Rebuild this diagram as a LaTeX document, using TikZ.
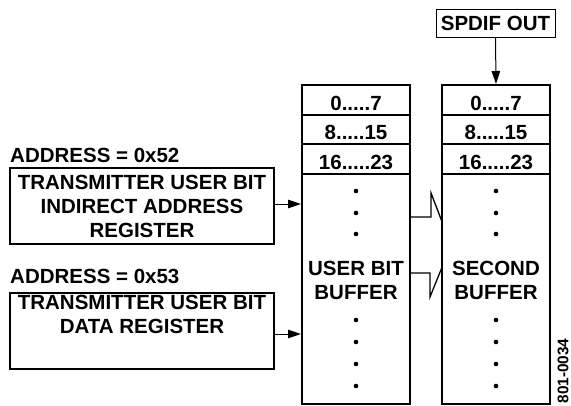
\documentclass[tikz,border=0pt]{standalone}
\usepackage{fontspec}
\setmainfont{Liberation Sans}
\usetikzlibrary{arrows.meta,backgrounds}

\begin{document}
\begin{tikzpicture}[x=1pt,y=-1pt,
    txt/.style={font=\fontsize{20.5}{24}\selectfont\bfseries,inner sep=0pt,align=center},
    cell/.style={txt,draw,line width=2pt,fill=white,minimum width=108pt,minimum height=29.5pt,anchor=north,text height=21pt,text depth=0pt},
    body/.style={draw,line width=2pt,fill=white,minimum width=108pt,minimum height=230pt,anchor=north,inner sep=0pt},
    regbox/.style={draw,line width=2pt,minimum width=263.5pt,minimum height=76pt,inner sep=0pt},
    feed/.style={line width=1pt,-{Triangle[length=13pt,width=8.5pt]}}]
    \useasboundingbox (0,0) rectangle (571,405);

    % user bit buffer
    \node[body] (ubbody) at (356,173) {};
    \node[cell] (ub0) at (356,84) {0.....7};
    \node[cell] (ub1) at (356,113.5) {8.....15};
    \node[cell] (ub2) at (356,143) {16.....23};
    \node[txt] (ubtxt) at (356,280) {USER BIT\\BUFFER};

    % second buffer
    \node[body] (sbbody) at (496,173) {};
    \node[cell] (sb0) at (496,84) {0.....7};
    \node[cell] (sb1) at (496,113.5) {8.....15};
    \node[cell] (sb2) at (496,143) {16.....23};
    \node[txt] (sbtxt) at (496,280) {SECOND\\BUFFER};

    \foreach \yy in {191,213,234,320,342,364,386}{
        \fill (ubbody.north |- 0,\yy) circle (2.3pt);
        \fill (sbbody.north |- 0,\yy) circle (2.3pt);
    }

    \begin{pgfonlayer}{background}
        \draw[line width=1.3pt] (ubbody.east |- 0,217) -- ++(20,0) -- ++(0,-24)
            -- (451,245) -- (430,297) -- ++(0,-24) -- (ubbody.east |- 0,273);
    \end{pgfonlayer}

    \node[txt,draw,line width=1pt,minimum width=119pt,minimum height=28pt] (spdif) at (495.5,23) {SPDIF OUT};
    \draw[feed] (spdif.south) -- (sb0.north);

    % registers
    \node[txt,anchor=base west] (addra) at (10,162) {ADDRESS = 0x52};
    \node[regbox,txt] (rega) at (142,206) {TRANSMITTER USER BIT\\INDIRECT ADDRESS\\REGISTER};
    \node[txt,anchor=base west] (addrb) at (10,283) {ADDRESS = 0x53};
    \node[regbox] (regb) at (142,331) {};
    \node[txt,anchor=north] (regbtxt) at (142,295) {TRANSMITTER USER BIT\\DATA REGISTER};

    \draw[feed] (rega.east |- 0,204) -- (ubbody.west |- 0,204);
    \draw[feed] (regb.east |- 0,334) -- (ubbody.west |- 0,334);

    \node[font=\fontsize{15.4}{18}\selectfont\bfseries,rotate=90,inner sep=0pt] (figno) at (563,371) {801-0034};
\end{tikzpicture}
\end{document}
